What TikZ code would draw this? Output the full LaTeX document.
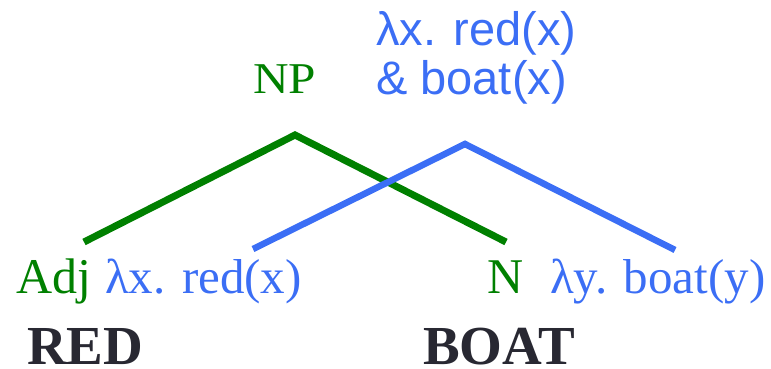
\documentclass[tikz,border=0pt]{standalone}
\usepackage{fontspec}
\setmainfont{Liberation Serif}
\newfontfamily\sansfont{Liberation Sans}
\usetikzlibrary{positioning}

\definecolor{syngreen}{RGB}{0,128,0}
\definecolor{semblue}{RGB}{59,110,245}
\definecolor{wordgray}{RGB}{40,40,50}

\begin{document}
\begin{tikzpicture}[
  x=1pt, y=-1pt,
  cat/.style={anchor=base west, inner sep=0pt, text=syngreen, font=\fontsize{50}{56}\selectfont},
  sem/.style={anchor=base west, inner sep=0pt, text=semblue, font=\fontsize{49}{56}\selectfont},
  word/.style={anchor=base west, inner sep=0pt, text depth=0pt, text=wordgray, font=\fontsize{55}{60}\selectfont\bfseries},
  synline/.style={draw=syngreen, line width=7pt},
  semline/.style={draw=semblue, line width=6.5pt}
]
\useasboundingbox (0,0) rectangle (771,369);

% NODES
\node[cat] (adj) at (16,293) {Adj};
\node[sem] (adjsem) at (105,293) {λx. red(x)};
\node[cat] (noun) at (487,293) {N};
\node[sem] (nounsem) at (550,293) {λy. boat(y)};
\node[cat, font=\fontsize{44}{50}\selectfont, xscale=1.12] (np) at (253,93) {NP};
\node[sem, font=\fontsize{47}{48}\selectfont\sansfont, align=left] (npsem) at (376,94) {λx. red(x)\\\& boat(x)};
\node[word] (red) at (27,364) {RED};
\node[word] (boat) at (423,364) {BOAT};

% TREE
\coordinate (adjtop) at (84,242);
\coordinate (nptop) at (295,135);
\coordinate (ntop) at (506,242);
\coordinate (semleft) at (253,249);
\coordinate (semtop) at (465,144);
\coordinate (semright) at (675,250);

\draw[synline] (adjtop) -- (nptop) -- (ntop);
\draw[semline] (semleft) -- (semtop) -- (semright);

\end{tikzpicture}
\end{document}
